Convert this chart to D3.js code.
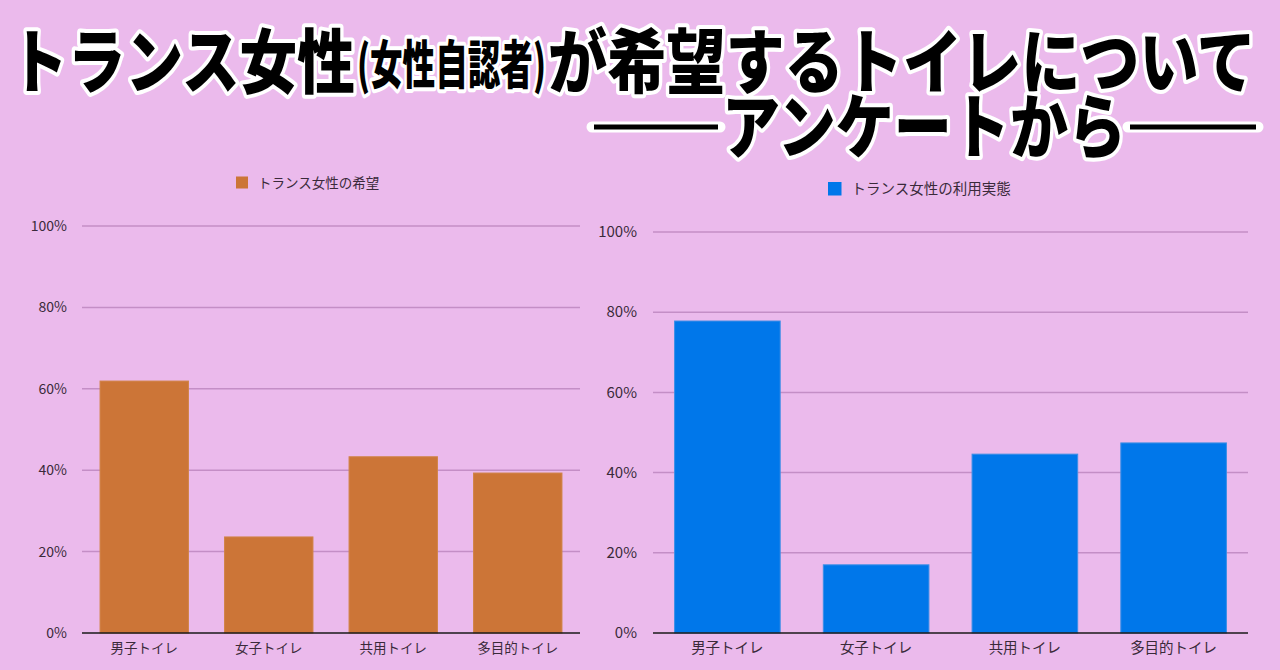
<!DOCTYPE html>
<html><head><meta charset="utf-8">
<script src="https://cdn.jsdelivr.net/npm/d3@7"></script>
<style>
html,body{margin:0;padding:0;background:#ebbaec;}
svg{display:block;}
</style></head>
<body>
<svg id="c" width="1280" height="670"></svg>
<script>
const categories = ["男子トイレ", "女子トイレ", "共用トイレ", "多目的トイレ"];
const wishValues = [61.9, 23.6, 43.3, 39.3];
const usageValues = [77.8, 17.0, 44.6, 47.4];
const tickValues = [0, 20, 40, 60, 80, 100];
const tickLabels = ["0%", "20%", "40%", "60%", "80%", "100%"];
const wishLegend = "トランス女性の希望";
const usageLegend = "トランス女性の利用実態";
const titleLine1 = [
  {t:"トランス女性", big:true},
  {t:"(女性自認者)", big:false},
  {t:"が希望するトイレについて", big:true}
];
const titleLine2 = "アンケートから";

const svg = d3.select("#c");
const bg = "#ebbaec";
svg.append("rect").attr("width",1280).attr("height",670).attr("fill",bg);

const cjk = "'Noto Sans CJK JP', sans-serif";

// Title
const tg = svg.append("g").attr("font-family", cjk).attr("font-weight", 900);
const segs = [
  {x0:10, x1:355, y:88, fs:70},
  {x0:357, x1:546, y:84, fs:52},
  {x0:548, x1:1256, y:88, fs:70}
];
titleLine1.forEach((s,i)=>{
  const g = segs[i];
  tg.append("text").attr("x", g.x0).attr("y", g.y).attr("font-size", g.fs)
    .attr("textLength", g.x1-g.x0).attr("lengthAdjust","spacingAndGlyphs")
    .attr("fill","#000").attr("stroke","#fff").attr("stroke-width",8)
    .attr("stroke-linejoin","round").attr("paint-order","stroke").text(s.t);
});
// dashes line 2
[[592,720],[1128,1258]].forEach(d=>{
  tg.append("line").attr("x1",d[0]).attr("x2",d[1]).attr("y1",127).attr("y2",127)
    .attr("stroke","#fff").attr("stroke-width",11).attr("stroke-linecap","round");
  tg.append("line").attr("x1",d[0]+2).attr("x2",d[1]-2).attr("y1",127).attr("y2",127)
    .attr("stroke","#000").attr("stroke-width",5);
});
tg.append("text").attr("x",722).attr("y",153).attr("font-size",70)
  .attr("textLength",404).attr("lengthAdjust","spacingAndGlyphs")
  .attr("fill","#000").attr("stroke","#fff").attr("stroke-width",8)
  .attr("stroke-linejoin","round").attr("paint-order","stroke").text(titleLine2);

function drawChart(opt){
  const g = svg.append("g").attr("font-family", cjk);
  const y = d3.scaleLinear().domain([0,100]).range([opt.y0, opt.y1]);
  const x = d3.scaleBand().domain(categories).range([opt.xl, opt.xr])
    .paddingInner(0.29).paddingOuter(0.145);
  // gridlines
  g.selectAll("line.grid").data(tickValues.filter(v=>v>0)).join("line")
    .attr("x1",opt.xl).attr("x2",opt.xr)
    .attr("y1",d=>y(d)).attr("y2",d=>y(d))
    .attr("stroke","#c48ec6").attr("stroke-width",1.5);
  // y labels
  g.selectAll("text.yl").data(tickValues).join("text")
    .attr("x",opt.labelX).attr("y",d=>y(d)).attr("dy","0.35em")
    .attr("text-anchor","end").attr("font-size",opt.fs).attr("fill","#3a2a3a")
    .text((d,i)=>tickLabels[i]);
  // bars
  g.selectAll("rect.bar").data(opt.values).join("rect")
    .attr("x",(d,i)=>x(categories[i])).attr("width",x.bandwidth())
    .attr("y",d=>y(d)).attr("height",d=>y(0)-y(d))
    .attr("fill",opt.color).attr("stroke",opt.stroke).attr("stroke-width",1);
  // baseline
  g.append("line").attr("x1",opt.xl).attr("x2",opt.xr)
    .attr("y1",y(0)).attr("y2",y(0)).attr("stroke","#1a1a1a").attr("stroke-width",1.6);
  // x labels
  g.selectAll("text.xl").data(categories).join("text")
    .attr("x",d=>x(d)+x.bandwidth()/2).attr("y",y(0)+15).attr("dy","0.35em")
    .attr("text-anchor","middle").attr("font-size",opt.fs-0.5).attr("fill","#3a2a3a")
    .text(d=>d);
  // legend
  g.append("rect").attr("x",opt.legX).attr("y",opt.legY-6.5).attr("width",opt.legSq).attr("height",opt.legSq)
    .attr("fill",opt.color);
  g.append("text").attr("x",opt.legX+opt.legSq+10).attr("y",opt.legY).attr("dy","0.35em")
    .attr("font-size",opt.legFs).attr("fill","#3a2a3a").text(opt.legend);
}

drawChart({values:wishValues, color:"#cc7537", stroke:"#d08448",
  xl:82, xr:580, y0:633, y1:226, labelX:67, fs:14,
  legX:236, legY:183, legSq:12, legFs:13.5, legend:wishLegend});
drawChart({values:usageValues, color:"#0077ea", stroke:"#3d8fe6",
  xl:653, xr:1248, y0:633, y1:232, labelX:637, fs:15,
  legX:828, legY:188.5, legSq:13.5, legFs:14.5, legend:usageLegend});
</script>
</body></html>
